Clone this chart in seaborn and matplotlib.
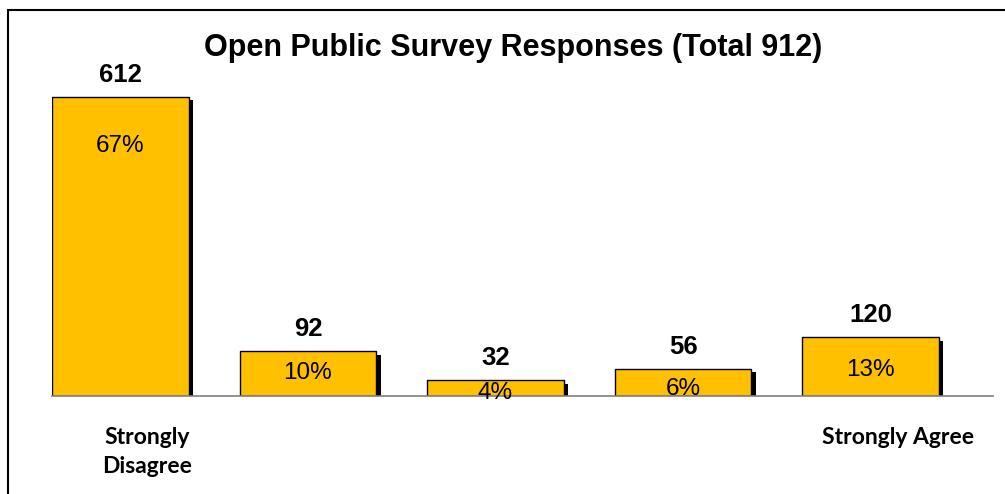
import matplotlib
matplotlib.use('Agg')
import matplotlib.pyplot as plt
import matplotlib.patheffects as pe
import matplotlib.transforms as mtransforms
from matplotlib.lines import Line2D
import seaborn as sns
import pandas as pd

# survey data
levels = [1, 2, 3, 4, 5]
counts = [612, 92, 32, 56, 120]
pcts = [67, 10, 4, 6, 13]
tick_labels = ['Strongly\nDisagree', '', '', '', 'Strongly Agree']
title = 'Open Public Survey Responses (Total 912)'

# how far below the bar top each % label sits (px) - uneven in the original
pct_drop = [49, 22, 13, 20, 33]

df = pd.DataFrame({'level': levels, 'count': counts})

sns.set_style('white')
plt.rcParams['font.family'] = ['Liberation Sans', 'DejaVu Sans']
plt.rcParams['text.color'] = 'black'
plt.rcParams['xtick.color'] = 'black'

fig = plt.figure(figsize=(10.05, 4.94), dpi=100)
ax = fig.add_axes([52 / 1005, 98 / 494, 941 / 1005, 342 / 494])

sns.barplot(data=df, x='level', y='count', order=levels, color='#FFC000',
            saturation=1, width=0.73, edgecolor='black', linewidth=1, ax=ax)

# excel style drop shadow on the bars
for p in ax.patches:
    p.set_path_effects([pe.SimplePatchShadow(offset=(3, -2.5), shadow_rgbFace='black', alpha=1),
                        pe.Normal()])

ax.set_xlim(-0.365, 4.653)
ax.set_ylim(0, 700)
ax.set_xlabel('')
ax.set_ylabel('')
ax.set_yticks([])
for s in ['top', 'right', 'left']:
    ax.spines[s].set_visible(False)
ax.spines['bottom'].set_color('#808080')
ax.spines['bottom'].set_linewidth(1.2)

ax.set_xticks(range(len(levels)))
ax.set_xticklabels(tick_labels, fontfamily='Lato', fontweight='bold', fontsize=16.5,
                   linespacing=1.5, color='black')
ax.tick_params(axis='x', length=0, pad=22)
shift = mtransforms.ScaledTranslation(27 / 100, 0, fig.dpi_scale_trans)
for lab in ax.get_xticklabels():
    lab.set_transform(lab.get_transform() + shift)

for i, (c, pc, d) in enumerate(zip(counts, pcts, pct_drop)):
    ax.annotate(str(c), (i, c), xytext=(0, 22 * 0.72), textcoords='offset points',
                ha='center', va='center', fontsize=18.5, fontweight='bold')
    ax.annotate(f'{pc}%', (i, c), xytext=(0, -d * 0.72), textcoords='offset points',
                ha='center', va='center', fontsize=17.5)

fig.text(513 / 1005, 1 - 48 / 494, title, ha='center', va='center',
         fontsize=22, fontweight='bold')

# frame around the chart, cut off on the right/bottom like the original
fig.add_artist(Line2D([8 / 1005, 8 / 1005], [0, 1 - 10 / 494], color='black', lw=1.5,
                      transform=fig.transFigure))
fig.add_artist(Line2D([8 / 1005, 1], [1 - 10 / 494, 1 - 10 / 494], color='black', lw=1.5,
                      transform=fig.transFigure))

fig.savefig('out.png', dpi=100)
